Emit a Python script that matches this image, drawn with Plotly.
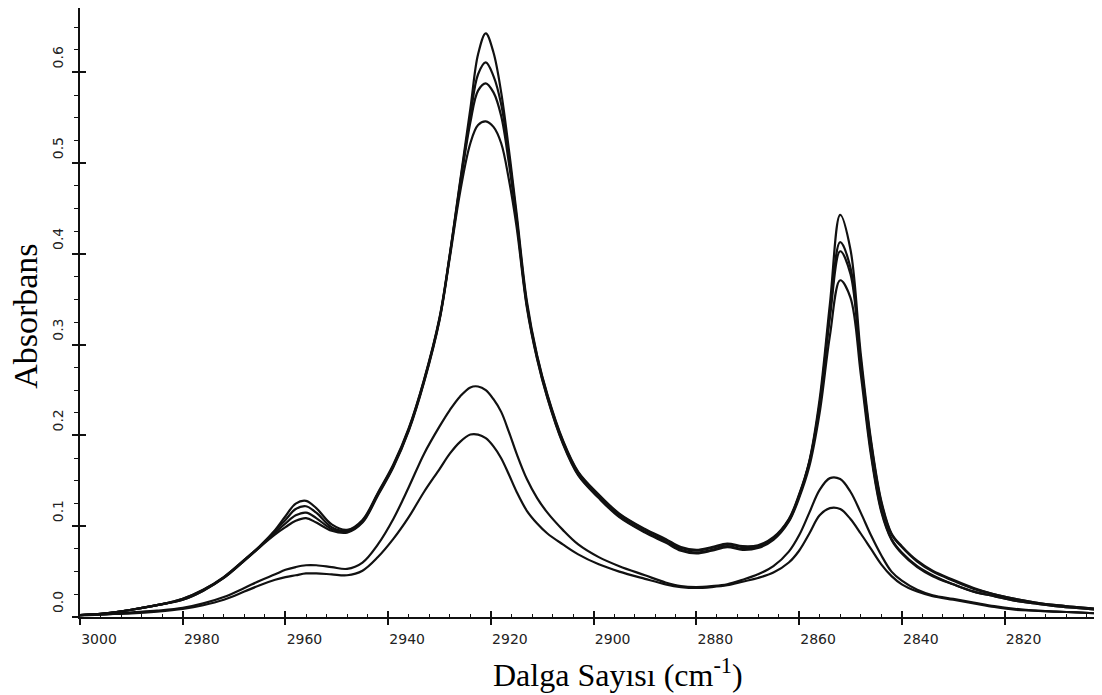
import plotly.graph_objects as go

# Wavenumber grid (cm^-1)
wavenumber = [3000, 2995, 2990, 2985, 2980, 2976, 2972, 2968, 2965, 2962, 2960, 2958, 2956, 2954,
              2951, 2948, 2945, 2942, 2939, 2936, 2933, 2930, 2928, 2926, 2924, 2922.5, 2921,
              2919.5, 2918, 2916.5, 2915, 2913, 2911, 2909, 2906, 2903, 2899, 2895, 2890, 2886,
              2883, 2880, 2877, 2874, 2871, 2868, 2865, 2862, 2860, 2858, 2856, 2854, 2852, 2850,
              2848, 2846, 2844, 2842, 2840, 2837, 2834, 2830, 2826, 2822, 2818, 2814, 2810, 2806, 2802]

spec_a = [0.002, 0.004, 0.008, 0.013, 0.020, 0.030, 0.044, 0.063, 0.078, 0.096, 0.111, 0.125, 0.128, 0.120,
          0.102, 0.096, 0.107, 0.137, 0.168, 0.208, 0.262, 0.330, 0.400, 0.480, 0.560, 0.620, 0.643,
          0.622, 0.578, 0.515, 0.445, 0.348, 0.288, 0.245, 0.195, 0.160, 0.135, 0.114, 0.097, 0.086,
          0.077, 0.074, 0.077, 0.081, 0.078, 0.079, 0.088, 0.108, 0.135, 0.172, 0.240, 0.345, 0.443, 0.405,
          0.290, 0.195, 0.128, 0.092, 0.078, 0.062, 0.051, 0.041, 0.032, 0.025, 0.020, 0.016, 0.013, 0.011, 0.009]

spec_b = [0.002, 0.004, 0.008, 0.013, 0.020, 0.030, 0.044, 0.063, 0.078, 0.095, 0.107, 0.119, 0.122, 0.115,
          0.099, 0.095, 0.106, 0.136, 0.167, 0.207, 0.261, 0.329, 0.399, 0.478, 0.552, 0.598, 0.611,
          0.596, 0.565, 0.508, 0.440, 0.345, 0.287, 0.244, 0.194, 0.159, 0.134, 0.113, 0.096, 0.085,
          0.076, 0.073, 0.076, 0.080, 0.077, 0.078, 0.087, 0.107, 0.134, 0.171, 0.235, 0.335, 0.413, 0.385,
          0.283, 0.192, 0.126, 0.091, 0.077, 0.061, 0.050, 0.040, 0.031, 0.025, 0.020, 0.016, 0.013, 0.011, 0.009]

spec_c = [0.002, 0.004, 0.008, 0.013, 0.019, 0.029, 0.043, 0.062, 0.077, 0.093, 0.103, 0.112, 0.115, 0.109,
          0.097, 0.094, 0.105, 0.135, 0.166, 0.206, 0.260, 0.328, 0.398, 0.475, 0.545, 0.580, 0.588,
          0.578, 0.552, 0.500, 0.437, 0.343, 0.285, 0.242, 0.192, 0.157, 0.132, 0.111, 0.094, 0.083,
          0.074, 0.071, 0.074, 0.078, 0.075, 0.077, 0.086, 0.106, 0.133, 0.170, 0.232, 0.330, 0.403, 0.378,
          0.278, 0.182, 0.118, 0.086, 0.071, 0.056, 0.046, 0.036, 0.028, 0.023, 0.018, 0.015, 0.012, 0.010, 0.008]

spec_d = [0.002, 0.004, 0.008, 0.013, 0.019, 0.029, 0.043, 0.062, 0.077, 0.091, 0.099, 0.106, 0.109, 0.104,
          0.095, 0.093, 0.104, 0.134, 0.165, 0.205, 0.259, 0.327, 0.396, 0.468, 0.522, 0.542, 0.546,
          0.540, 0.522, 0.482, 0.430, 0.341, 0.284, 0.241, 0.191, 0.156, 0.131, 0.110, 0.093, 0.082,
          0.073, 0.070, 0.073, 0.077, 0.074, 0.076, 0.085, 0.105, 0.131, 0.166, 0.225, 0.310, 0.371, 0.352,
          0.268, 0.178, 0.116, 0.085, 0.070, 0.055, 0.045, 0.036, 0.028, 0.023, 0.018, 0.015, 0.012, 0.010, 0.008]

spec_e = [0.002, 0.003, 0.005, 0.007, 0.010, 0.015, 0.022, 0.032, 0.040, 0.047, 0.052, 0.055, 0.057, 0.057,
          0.055, 0.053, 0.060, 0.080, 0.108, 0.143, 0.180, 0.210, 0.228, 0.243, 0.253, 0.254, 0.250,
          0.240, 0.226, 0.204, 0.180, 0.152, 0.131, 0.115, 0.096, 0.080, 0.066, 0.056, 0.046, 0.038,
          0.034, 0.033, 0.034, 0.036, 0.041, 0.047, 0.056, 0.072, 0.090, 0.115, 0.140, 0.153, 0.152, 0.138,
          0.115, 0.090, 0.068, 0.050, 0.040, 0.030, 0.024, 0.020, 0.016, 0.012, 0.009, 0.007, 0.006, 0.005, 0.004]

spec_f = [0.002, 0.003, 0.004, 0.006, 0.009, 0.013, 0.019, 0.028, 0.035, 0.041, 0.044, 0.046, 0.048, 0.048,
          0.047, 0.046, 0.051, 0.066, 0.086, 0.110, 0.138, 0.163, 0.180, 0.193, 0.201, 0.201, 0.197,
          0.188, 0.175, 0.157, 0.138, 0.117, 0.103, 0.092, 0.080, 0.069, 0.058, 0.050, 0.042, 0.036,
          0.033, 0.032, 0.033, 0.035, 0.039, 0.043, 0.049, 0.060, 0.073, 0.092, 0.112, 0.120, 0.119, 0.108,
          0.092, 0.075, 0.058, 0.045, 0.036, 0.028, 0.023, 0.019, 0.015, 0.011, 0.008, 0.007, 0.006, 0.005, 0.004]

x_tick_vals = [3000, 2980, 2960, 2940, 2920, 2900, 2880, 2860, 2840, 2820]
x_tick_text = ["3000", "2980", "2960", "2940", "2920", "2900", "2880", "2860", "2840", "2820"]
y_tick_vals = [0.0, 0.1, 0.2, 0.3, 0.4, 0.5, 0.6]
y_tick_text = ["0.0", "0.1", "0.2", "0.3", "0.4", "0.5", "0.6"]

series = [spec_a, spec_b, spec_c, spec_d, spec_e, spec_f]

fig = go.Figure()
for s in series:
    fig.add_trace(go.Scatter(x=wavenumber, y=s, mode="lines",
                             line=dict(color="#111111", width=2.2, shape="spline", smoothing=1.0),
                             showlegend=False, hoverinfo="skip"))

X_RANGE = [3000, 2802]
Y_RANGE = [0, 0.671]
tick_font = dict(family="DejaVu Sans", size=14, color="#222222")

# The page body adds an 8 px offset, so the figure is 8 px smaller than the window.
fig.update_layout(
    width=1094, height=687,
    margin=dict(l=72, r=5, t=0, b=78),
    paper_bgcolor="white", plot_bgcolor="white",
    xaxis=dict(range=X_RANGE, tickvals=x_tick_vals, ticktext=x_tick_text,
               ticks="outside", ticklen=6, tickwidth=1.5, tickcolor="#111111",
               showline=True, linecolor="#111111", linewidth=1.5, showgrid=False, zeroline=False,
               tickfont=tick_font, ticklabelshift=-19, ticklabelstandoff=2),
    xaxis2=dict(range=X_RANGE, overlaying="x", anchor="y", side="bottom",
                tickvals=x_tick_vals, showticklabels=False,
                ticks="inside", ticklen=6, tickwidth=1.5, tickcolor="#111111",
                minor=dict(dtick=4, tick0=3000, ticks="inside", ticklen=3, tickwidth=1.2, tickcolor="#111111"),
                showline=False, showgrid=False, zeroline=False),
    yaxis=dict(range=Y_RANGE, tickvals=y_tick_vals, ticktext=y_tick_text,
               ticks="outside", ticklen=6, tickwidth=1.5, tickcolor="#111111",
               minor=dict(dtick=0.025, tick0=0, ticks="outside", ticklen=4, tickwidth=1.2, tickcolor="#111111"),
               showline=True, linecolor="#111111", linewidth=1.5, showgrid=False, zeroline=False,
               tickfont=tick_font, tickangle=-90, ticklabelshift=-13, ticklabelstandoff=4),
    yaxis2=dict(range=Y_RANGE, overlaying="y", anchor="x", side="left",
                tickvals=y_tick_vals, showticklabels=False,
                ticks="inside", ticklen=6, tickwidth=1.5, tickcolor="#111111",
                showline=False, showgrid=False, zeroline=False),
    annotations=[
        dict(text="Dalga Sayısı (cm<sup>-1</sup>)", xref="paper", yref="paper",
             x=0.529, y=-0.092, xanchor="center", yanchor="middle", showarrow=False,
             font=dict(family="Liberation Serif", size=32, color="black")),
        dict(text="Absorbans", xref="paper", yref="paper", textangle=-90,
             x=-0.053, y=0.493, xanchor="center", yanchor="middle", showarrow=False,
             font=dict(family="Liberation Serif", size=34, color="black")),
    ],
)
# an empty trace to activate the secondary (tick-only) axes
fig.add_trace(go.Scatter(x=[None], y=[None], xaxis="x2", yaxis="y2", showlegend=False, hoverinfo="skip"))

fig.write_html("out.html")
